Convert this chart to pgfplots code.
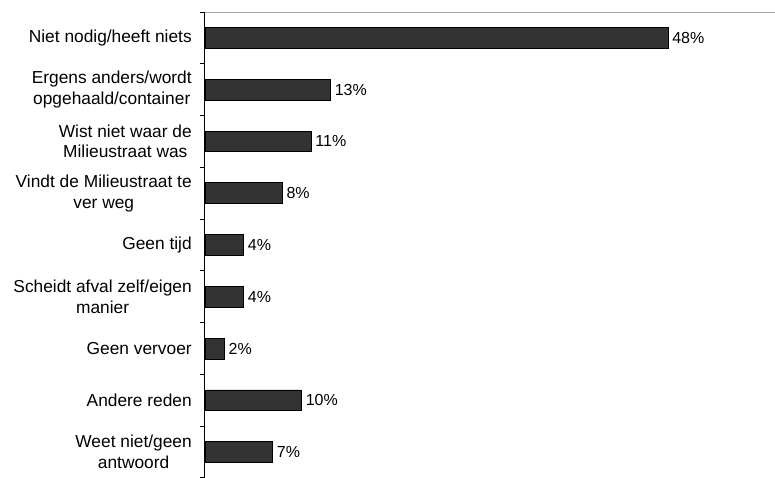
\documentclass[border=0pt]{standalone}
\usepackage{pgfplots}
\pgfplotsset{compat=1.18}
\usepackage{fontspec}
\setmainfont{Liberation Sans}
\begin{document}
\begin{tikzpicture}
\begin{axis}[
  name=ax,
  scale only axis,
  width=427.5pt, height=349.5pt,
  xmin=0, xmax=59.1,
  ymin=-0.5, ymax=8.5,
  y dir=reverse,
  xtick=\empty,
  ytick={0,1,2,3,4,5,6,7,8},
  yticklabels={{Niet nodig/heeft niets},{Ergens anders/wordt\\opgehaald/container},{Wist niet waar de\\Milieustraat was},{Vindt de Milieustraat te\\ver weg},{Geen tijd},{Scheidt afval zelf/eigen\\manier},{Geen vervoer},{Andere reden},{Weet niet/geen\\antwoord}},
  yticklabel style={align=center, font=\fontsize{13}{15.5}\selectfont, inner sep=0pt, xshift=-9.75pt},
  major tick length=0pt,
  minor ytick={-0.5,0.5,...,8.5},
  minor tick length=3.75pt,
  tick align=outside,
  ytick pos=left,
  tick style={black, line width=0.75pt},
  axis line style={draw=none},
  clip=false,
  after end axis/.code={
    \draw[black!35, line width=0.75pt] (rel axis cs:0,1) -- (rel axis cs:1,1);
    \draw[black, line width=0.75pt] (rel axis cs:0,0) -- (rel axis cs:0,1);
  },
  /pgf/number format/assume math mode=true,
  nodes near coords={\pgfmathprintnumber{\pgfplotspointmeta}\%},
  nodes near coords style={font=\fontsize{12}{14}\selectfont, anchor=west, inner sep=0pt, xshift=3pt},
  point meta=x,
]
\addplot[xbar, fill=black!80, draw=black, line width=0.6pt, bar width=0.4] coordinates {
  (48,0) (13,1) (11,2) (8,3) (4,4) (4,5) (2,6) (10,7) (7,8)
};
\end{axis}
\pgfresetboundingbox
\path ([xshift=-153.75pt]ax.south west) rectangle ([yshift=9pt]ax.north east);
\end{tikzpicture}
\end{document}
